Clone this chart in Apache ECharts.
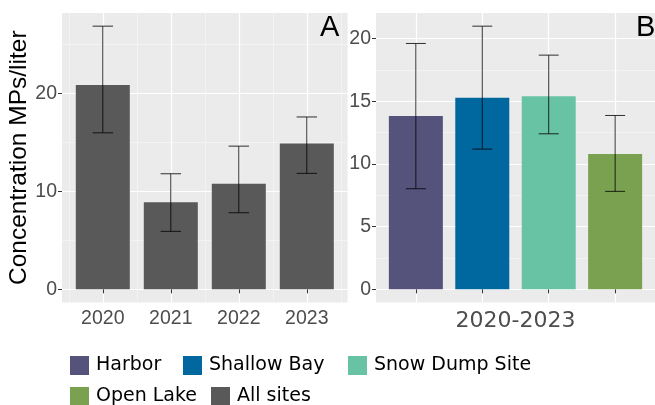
<!DOCTYPE html>
<html>
<head>
<meta charset="utf-8">
<script src="https://cdn.jsdelivr.net/npm/echarts@6/dist/echarts.min.js"></script>
<style>
  html, body { margin: 0; padding: 0; background: #ffffff; }
  #chart { width: 655px; height: 405px; }
</style>
</head>
<body>
<div id="chart"></div>
<script>
// Panel A: all sites pooled, by year
const years = ['2020', '2021', '2022', '2023'];
const allMean = [20.85, 8.88, 10.78, 14.9];
const allLow = [15.98, 5.92, 7.82, 11.84];
const allHigh = [26.87, 11.8, 14.62, 17.6];

// Panel B: each site, 2020-2023 pooled
const sites = ['Harbor', 'Shallow Bay', 'Snow Dump Site', 'Open Lake'];
const siteMean = [13.81, 15.27, 15.4, 10.78];
const siteLow = [8.02, 11.18, 12.4, 7.81];
const siteHigh = [19.6, 20.98, 18.67, 13.86];

// Axis ticks
const yTicksA = [0, 10, 20];
const yMinorA = [5, 15, 25];
const yTicksB = [0, 5, 10, 15, 20];
const yMinorB = [2.5, 7.5, 12.5, 17.5];
const periodLabel = '2020-2023';
const yTitle = 'Concentration MPs/liter';

// Legend entries in display order (two rows)
const legendRows = [
  ['Harbor', 'Shallow Bay', 'Snow Dump Site'],
  ['Open Lake', 'All sites']
];

const siteColors = ['#55527b', '#00689f', '#68c3a5', '#7aa150'];
const allColor = '#595959';

const PANEL_BG = '#ebebeb';
const TICK_COLOR = '#333333';
const LABEL_COLOR = '#4d4d4d';
const SANS = '"Liberation Sans", Arial, sans-serif';
const WIDE = '"DejaVu Sans", Verdana, sans-serif';
const CAP = 0.3;     // error bar cap width, in category units
const PAD = 0.6;     // discrete axis padding, in category units

// continuous axis limits with 5% expansion on both ends
function yLimits(high) {
  const top = Math.max(...high);
  const pad = top * 0.05;
  return [0 - pad, top + pad];
}
const limA = yLimits(allHigh);
const limB = yLimits(siteHigh);

const posA = years.map((_, i) => i + 1);
const posB = sites.map((_, i) => i + 1);

const gridA = { left: 62, top: 13, width: 285.6, height: 289.5 };
const gridB = { left: 376, top: 13, width: 287, height: 289.5 };

function xMain(gridIndex, positions, labels, showLabels, name) {
  return {
    type: 'value', gridIndex,
    min: 1 - PAD, max: positions.length + PAD,
    name: name || '',
    nameLocation: 'middle', nameGap: 8,
    nameTextStyle: { fontFamily: WIDE, fontSize: 22, color: LABEL_COLOR, verticalAlign: 'top' },
    axisLine: { show: false },
    axisTick: { show: true, customValues: positions, length: 4, lineStyle: { color: TICK_COLOR, width: 1 } },
    axisLabel: {
      show: showLabels, customValues: positions, margin: 6,
      fontFamily: SANS, fontSize: 19.5, color: LABEL_COLOR,
      formatter: v => labels[Math.round(v) - 1]
    },
    splitLine: { show: true, lineStyle: { color: '#ffffff', width: 1.2 } }
  };
}

function yMain(gridIndex, lim, ticks, name) {
  return {
    type: 'value', gridIndex, min: lim[0], max: lim[1],
    name: name || '', nameLocation: 'middle', nameGap: 29, nameRotate: 90,
    nameTextStyle: { fontFamily: SANS, fontSize: 24.5, color: '#000000' },
    axisLine: { show: false },
    axisTick: { show: true, customValues: ticks, length: 4, lineStyle: { color: TICK_COLOR, width: 1 } },
    axisLabel: { customValues: ticks, margin: 5, fontFamily: SANS, fontSize: 19.5, color: LABEL_COLOR },
    splitLine: { show: true, lineStyle: { color: '#ffffff', width: 1.2 } }
  };
}

function yMinor(gridIndex, lim, ticks) {
  return {
    type: 'value', gridIndex, min: lim[0], max: lim[1],
    axisLine: { show: false },
    axisTick: { show: false, customValues: ticks },
    axisLabel: { show: false, customValues: ticks },
    splitLine: { show: true, lineStyle: { color: '#f6f6f6', width: 0.7 } }
  };
}

function errorSeries(name, xAxisIndex, yAxisIndex, pos, low, high) {
  return {
    type: 'custom', name, xAxisIndex, yAxisIndex, z: 5,
    silent: true,
    data: pos.map((p, i) => [p, low[i], high[i]]),
    encode: { x: 0, y: [1, 2] },
    renderItem(params, api) {
      const x = api.value(0);
      const lo = api.coord([x, api.value(1)]);
      const hi = api.coord([x, api.value(2)]);
      const half = api.size([CAP, 0])[0] / 2;
      const style = { stroke: 'rgba(0,0,0,0.8)', lineWidth: 1 };
      return {
        type: 'group',
        children: [
          { type: 'line', shape: { x1: hi[0], y1: hi[1], x2: lo[0], y2: lo[1] }, style },
          { type: 'line', shape: { x1: hi[0] - half, y1: hi[1], x2: hi[0] + half, y2: hi[1] }, style },
          { type: 'line', shape: { x1: lo[0] - half, y1: lo[1], x2: lo[0] + half, y2: lo[1] }, style }
        ]
      };
    }
  };
}

const BAR_W = 54;

const series = [
  {
    type: 'bar', name: 'All sites', xAxisIndex: 0, yAxisIndex: 0,
    barWidth: BAR_W, itemStyle: { color: allColor },
    data: posA.map((p, i) => [p, allMean[i]])
  },
  errorSeries('err-all', 0, 0, posA, allLow, allHigh)
];

sites.forEach((s, i) => {
  series.push({
    type: 'bar', name: s, xAxisIndex: 2, yAxisIndex: 2,
    barWidth: BAR_W, barGap: '-100%', itemStyle: { color: siteColors[i] },
    data: [[posB[i], siteMean[i]]]
  });
});
series.push(errorSeries('err-sites', 2, 2, posB, siteLow, siteHigh));

// one legend block per entry so each key sits where it belongs in its row
const legendLeft = [[70, 183, 348], [70, 211]];
const legendTop = [356, 387];
const legend = [];
legendRows.forEach((row, r) => {
  row.forEach((name, c) => {
    legend.push({
      data: [name], left: legendLeft[r][c], top: legendTop[r], padding: 0,
      icon: 'rect', itemWidth: 19, itemHeight: 19, selectedMode: false,
      textStyle: { fontFamily: WIDE, fontSize: 19, color: '#000000', padding: [0, 0, 0, 2] }
    });
  });
});

const option = {
  animation: false,
  backgroundColor: '#ffffff',
  title: [
    { text: 'A', left: 320, top: 13, padding: 0, textStyle: { fontFamily: SANS, fontSize: 29, fontWeight: 'normal', color: '#000000' } },
    { text: 'B', left: 636, top: 13, padding: 0, textStyle: { fontFamily: SANS, fontSize: 29, fontWeight: 'normal', color: '#000000' } }
  ],
  grid: [
    Object.assign({ show: true, backgroundColor: PANEL_BG, borderWidth: 0 }, gridA),
    Object.assign({ show: true, backgroundColor: PANEL_BG, borderWidth: 0 }, gridB)
  ],
  xAxis: [
    xMain(0, posA, years, true),
    // faint lines between the year columns
    {
      type: 'value', gridIndex: 0, min: 1 - PAD, max: posA.length + PAD,
      axisLine: { show: false },
      axisTick: { show: false, customValues: posA.map(p => p - 0.5).concat([posA.length + 0.5]) },
      axisLabel: { show: false },
      splitLine: { show: true, lineStyle: { color: '#f6f6f6', width: 0.7 } }
    },
    xMain(1, posB, sites, false, periodLabel)
  ],
  yAxis: [
    yMain(0, limA, yTicksA, yTitle),
    yMinor(0, limA, yMinorA),
    yMain(1, limB, yTicksB),
    yMinor(1, limB, yMinorB)
  ],
  legend,
  series
};

const chart = echarts.init(document.getElementById('chart'), null, { renderer: 'canvas' });
chart.setOption(option);
</script>
</body>
</html>
